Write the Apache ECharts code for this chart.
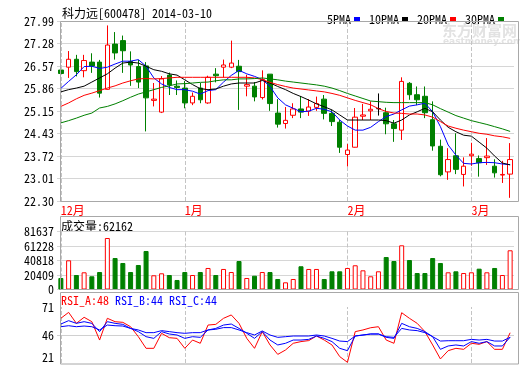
<!DOCTYPE html>
<html>
<head>
<meta charset="utf-8">
<script src="https://cdn.jsdelivr.net/npm/echarts/dist/echarts.min.js"></script>
<style>
  html, body { margin: 0; padding: 0; background: #fff; }
  #chart { width: 520px; height: 365px; }
</style>
</head>
<body>
<div id="chart"></div>
<script>
// trading days shown
const dates = [
  '2013-12-10','2013-12-11','2013-12-12','2013-12-13','2013-12-16','2013-12-17','2013-12-18','2013-12-19',
  '2013-12-20','2013-12-23','2013-12-24','2013-12-25','2013-12-26','2013-12-27','2013-12-30','2013-12-31',
  '2014-01-02','2014-01-03','2014-01-06','2014-01-07','2014-01-08','2014-01-09','2014-01-10','2014-01-13',
  '2014-01-14','2014-01-15','2014-01-16','2014-01-17','2014-01-20','2014-01-21','2014-01-22','2014-01-23',
  '2014-01-24','2014-01-27','2014-01-28','2014-01-29','2014-01-30',
  '2014-02-07','2014-02-10','2014-02-11','2014-02-12','2014-02-13','2014-02-14','2014-02-17','2014-02-18',
  '2014-02-19','2014-02-20','2014-02-21','2014-02-24','2014-02-25','2014-02-26','2014-02-27','2014-02-28',
  '2014-03-03','2014-03-04','2014-03-05','2014-03-06','2014-03-07','2014-03-10'
];
const monthStarts = [0, 16, 37, 53];
const monthLabels = ['12月', '1月', '2月', '3月'];

const priceTicks = ['22.30', '23.01', '23.72', '24.43', '25.15', '25.86', '26.57', '27.28', '27.99'];
const volumeTicks = ['0', '20409', '40818', '61228', '81637'];
const rsiTicks = ['21', '46', '71'];

// [open, close, low, high]
const ohlc = [
  [26.44, 26.33, 26.08, 26.57], [26.53, 26.78, 26.19, 27.04], [26.78, 26.39, 26.24, 26.92], [26.42, 26.74, 26.21, 26.92],
  [26.69, 26.57, 26.35, 26.97], [26.69, 25.71, 25.57, 26.76], [25.83, 27.23, 25.82, 27.85], [27.26, 26.98, 26.77, 27.64],
  [27.37, 27.05, 26.35, 27.53], [26.71, 26.60, 25.94, 27.03], [26.55, 26.06, 25.87, 26.76], [26.57, 25.56, 24.50, 26.69],
  [25.48, 25.52, 25.29, 26.03], [25.11, 26.16, 25.08, 26.25], [26.28, 25.97, 25.65, 26.36], [25.93, 25.89, 25.65, 26.11],
  [25.87, 25.40, 25.23, 26.09], [25.40, 25.61, 25.33, 25.73], [25.87, 25.50, 25.39, 26.03], [25.40, 26.21, 25.37, 26.26],
  [26.31, 26.26, 26.05, 26.50], [26.53, 26.60, 26.20, 26.77], [26.53, 26.66, 26.50, 27.37], [26.56, 26.39, 25.18, 26.76],
  [25.93, 25.98, 25.61, 26.29], [25.93, 25.59, 25.45, 26.06], [25.57, 26.14, 25.51, 26.43], [26.31, 25.38, 25.15, 26.31],
  [25.08, 24.73, 24.62, 25.52], [24.75, 24.85, 24.59, 25.27], [25.01, 25.21, 24.92, 25.39], [25.21, 25.11, 24.92, 25.62],
  [25.14, 25.27, 24.99, 25.52], [25.26, 25.38, 25.15, 25.60], [25.52, 25.07, 24.88, 25.65], [25.07, 24.81, 24.67, 25.18],
  [24.79, 24.00, 23.82, 24.86], [23.77, 23.91, 23.39, 24.10], [24.00, 24.95, 23.99, 25.24], [24.98, 25.02, 24.86, 25.37],
  [25.15, 25.20, 24.86, 25.45], [25.22, 25.22, 25.00, 25.70], [25.09, 24.74, 24.41, 25.25], [24.74, 24.59, 24.17, 24.86],
  [24.54, 26.08, 24.23, 26.21], [26.02, 25.66, 25.50, 26.06], [25.66, 25.50, 25.33, 25.92], [25.61, 25.09, 24.92, 25.92],
  [24.87, 24.04, 23.89, 25.45], [24.03, 23.13, 23.08, 24.24], [23.22, 23.61, 22.97, 23.97], [23.73, 23.30, 23.15, 24.44],
  [23.14, 23.40, 22.76, 23.68], [23.73, 23.78, 23.41, 24.14], [23.64, 23.51, 23.07, 23.74], [23.67, 23.72, 23.44, 24.29],
  [23.40, 23.19, 23.04, 23.62], [23.12, 23.14, 22.87, 23.57], [23.15, 23.61, 22.40, 24.13]
];

const volumes = [
  16200, 41100, 20400, 24200, 18600, 24600, 72500, 44300, 37300, 24600, 34500, 54200, 20000, 22800, 20400,
  13400, 24600, 20400, 24600, 30300, 20400, 28900, 24600, 40100, 16200, 19400, 24600, 24600, 14800, 10100,
  14800, 32700, 28900, 28900, 14800, 25600, 25600, 30300, 34100, 27000, 18600, 25600, 45700, 40100, 62200,
  41500, 23200, 23200, 44300, 37300, 24200, 25600, 23200, 24200, 29300, 24200, 30300, 20400, 55200
];
const volumeLast = 62162;

const ma5 = [
  25.86, 26.08, 26.29, 26.55, 26.56, 26.49, 26.53, 26.63, 26.72, 26.72, 26.77, 26.56, 26.19, 26.00, 25.89,
  25.82, 25.82, 25.77, 25.68, 25.79, 25.82, 26.06, 26.27, 26.43, 26.32, 26.24, 26.14, 25.92, 25.56, 25.34,
  25.23, 25.12, 25.14, 25.23, 25.20, 25.12, 24.86, 24.67, 24.54, 24.54, 24.63, 24.81, 24.97, 25.05, 25.18,
  25.30, 25.34, 25.39, 25.12, 24.65, 24.07, 23.75, 23.49, 23.47, 23.51, 23.52, 23.51, 23.47, 23.45
];
const ma10 = [
  25.75, 25.82, 25.87, 25.93, 26.06, 26.19, 26.32, 26.50, 26.66, 26.69, 26.66, 26.56, 26.45, 26.40, 26.32,
  26.28, 26.13, 25.98, 25.85, 25.82, 25.84, 25.93, 26.00, 26.03, 26.03, 26.03, 26.11, 26.03, 25.92, 25.82,
  25.70, 25.60, 25.49, 25.37, 25.28, 25.18, 25.02, 24.86, 24.86, 24.86, 24.86, 24.86, 24.84, 24.76, 24.86,
  25.02, 25.12, 25.23, 25.12, 24.86, 24.63, 24.49, 24.38, 24.35, 24.16, 23.97, 23.72, 23.50, 23.44
];
const ma20 = [
  25.29, 25.40, 25.53, 25.64, 25.71, 25.79, 25.87, 25.94, 26.03, 26.10, 26.16, 26.17, 26.16, 26.17, 26.19,
  26.21, 26.21, 26.21, 26.21, 26.21, 26.21, 26.21, 26.21, 26.21, 26.21, 26.19, 26.14, 26.05, 25.98, 25.92,
  25.87, 25.84, 25.81, 25.78, 25.75, 25.70, 25.64, 25.56, 25.48, 25.41, 25.34, 25.22, 25.13, 25.08, 25.07,
  25.05, 25.05, 25.02, 24.95, 24.81, 24.67, 24.60, 24.54, 24.49, 24.44, 24.41, 24.36, 24.33, 24.28
];
const ma30 = [
  24.77, 24.84, 24.92, 25.01, 25.08, 25.24, 25.29, 25.37, 25.47, 25.58, 25.68, 25.75, 25.82, 25.89, 25.94,
  26.00, 26.01, 26.03, 26.05, 26.06, 26.10, 26.13, 26.13, 26.16, 26.16, 26.17, 26.19, 26.16, 26.13, 26.09,
  26.06, 26.03, 26.00, 25.97, 25.93, 25.87, 25.79, 25.70, 25.62, 25.54, 25.46, 25.44, 25.42, 25.41, 25.41,
  25.41, 25.41, 25.41, 25.34, 25.22, 25.11, 25.00, 24.92, 24.84, 24.78, 24.72, 24.65, 24.58, 24.50
];

const rsiA = [
  60.9, 66.2, 56.4, 61.8, 57.9, 41.5, 60.9, 57.9, 57.3, 53.4, 44.5, 34.1, 34.1, 47.5, 43.6,
  43.0, 34.1, 41.5, 38.6, 54.9, 55.5, 60.9, 63.9, 56.4, 43.0, 34.1, 49.0, 37.1, 28.7, 32.6,
  38.6, 40.1, 41.0, 45.1, 41.5, 37.1, 26.7, 21.6, 49.0, 50.5, 52.5, 53.4, 41.5, 38.6, 65.9,
  60.9, 56.4, 49.0, 37.1, 24.6, 32.0, 34.1, 33.2, 38.6, 37.7, 40.1, 33.2, 33.2, 48.0
];
const rsiB = [
  55.8, 58.8, 56.4, 57.9, 56.4, 49.0, 57.9, 56.4, 55.5, 51.9, 49.0, 44.5, 43.0, 49.0, 46.9,
  46.0, 43.0, 44.5, 43.9, 50.5, 51.9, 54.9, 55.8, 51.9, 47.5, 43.0, 49.0, 41.5, 37.1, 38.6,
  41.5, 41.5, 42.1, 45.1, 43.0, 40.1, 34.1, 32.0, 45.1, 46.0, 46.9, 46.9, 43.9, 43.0, 56.4,
  53.4, 51.9, 49.0, 44.5, 33.2, 36.2, 37.1, 36.2, 40.1, 38.6, 40.1, 36.2, 36.2, 44.0
];
const rsiC = [
  53.4, 54.3, 53.4, 54.0, 53.4, 50.5, 54.9, 54.3, 54.0, 51.9, 50.5, 48.1, 48.1, 49.9, 49.0,
  48.1, 47.5, 48.1, 48.1, 50.5, 51.1, 52.6, 52.6, 50.5, 48.1, 46.0, 49.6, 46.0, 43.9, 44.5,
  45.1, 45.1, 45.1, 46.0, 45.1, 43.0, 40.6, 40.1, 45.1, 46.0, 46.9, 46.9, 44.5, 43.9, 51.9,
  50.5, 49.9, 48.1, 44.5, 40.6, 40.9, 40.9, 40.9, 42.1, 41.5, 42.1, 40.6, 40.6, 44.0
];

const FONT = "'Noto Sans Mono CJK SC', 'DejaVu Sans Mono', monospace";
const RED = '#ff0000', GREEN = '#008000', BLUE = '#0000ff';
const LEFT = 57, WIDTH = 457;

const chart = echarts.init(document.getElementById('chart'), null, { renderer: 'canvas' });

const monthLine = {
  silent: true,
  symbol: 'none',
  z: 1,
  label: { show: false },
  lineStyle: { type: 'dashed', color: '#c4c4c4', width: 1 },
  data: monthStarts.map(i => ({ xAxis: dates[i] }))
};

const volData = volumes.map((v, i) => {
  const up = ohlc[i][1] >= ohlc[i][0];
  return {
    value: v,
    itemStyle: up
      ? { color: '#fff', borderColor: RED, borderWidth: 1 }
      : { color: GREEN, borderColor: GREEN, borderWidth: 1 }
  };
});

const catAxis = (idx, showLabel) => ({
  type: 'category',
  gridIndex: idx,
  data: dates,
  boundaryGap: true,
  axisLine: { show: false },
  axisTick: { show: false },
  splitLine: { show: false },
  axisLabel: showLabel ? {
    interval: (i) => monthStarts.includes(i),
    formatter: (v, i) => monthLabels[monthStarts.indexOf(i)],
    color: RED, fontSize: 12, fontFamily: FONT, align: 'left', margin: 3
  } : { show: false }
});

const valAxis = (idx, min, max, step, ticks, splitColor, bottomAlign) => ({
  type: 'value',
  gridIndex: idx,
  min: min, max: max, interval: step,
  axisLine: { show: false },
  axisTick: { show: false },
  axisLabel: {
    color: '#000', fontSize: 12, fontFamily: FONT, margin: 3,
    verticalAlignMinLabel: bottomAlign ? 'bottom' : null,
    formatter: (v) => ticks[Math.round((v - min) / step)]
  },
  splitLine: { lineStyle: { color: splitColor, width: 1 } }
});

const frame = (y, h) => ({
  type: 'rect', silent: true, z: 100,
  shape: { x: 60.5, y: y, width: 458, height: h },
  style: { fill: 'none', stroke: '#a8a8a8', lineWidth: 1 }
});

const lastRsi = (arr) => Math.round(arr[arr.length - 1]);

chart.setOption({
  animation: false,
  backgroundColor: '#fff',
  legend: {
    right: 11, top: 8,
    align: 'right',
    icon: 'rect', itemWidth: 6, itemHeight: 4, itemGap: 9,
    selectedMode: false,
    textStyle: { color: '#000', fontSize: 12, fontFamily: FONT, padding: [0, -2, 0, 0] },
    data: ['5PMA', '10PMA', '20PMA', '30PMA']
  },
  grid: [
    { left: LEFT, width: WIDTH, top: 21, height: 180, outerBoundsMode: 'none' },
    { left: LEFT, width: WIDTH, top: 231.5, height: 58, outerBoundsMode: 'none' },
    { left: LEFT, width: WIDTH, top: 307, height: 56, outerBoundsMode: 'none' }
  ],
  xAxis: [catAxis(0, true), catAxis(1, false), catAxis(2, false)],
  yAxis: [
    valAxis(0, 22.30, 27.99, 0.71125, priceTicks, '#d6d6d6', false),
    valAxis(1, 0, 81637, 20409.25, volumeTicks, '#d6d6d6', false),
    valAxis(2, 21, 71, 25, rsiTicks, ['rgba(0,0,0,0)', '#d0d0d0', 'rgba(0,0,0,0)'], true)
  ],
  graphic: [
    frame(21.5, 180), frame(216.5, 73), frame(292.5, 71.5),
    {
      type: 'text', x: 442, y: 23, silent: true, z: 0,
      style: { text: '东方财富网', font: 'bold 15px "Noto Sans CJK SC"', fill: '#e2e2e2' }
    },
    {
      type: 'text', x: 443, y: 37, silent: true, z: 0,
      style: { text: 'eastmoney.com', font: 'bold 9px "DejaVu Sans"', fill: '#e2e2e2' }
    },
    {
      type: 'text', x: 62, y: 7,
      style: { text: '科力远[600478] 2014-03-10', font: '12px ' + FONT, fill: '#000' }
    },
    {
      type: 'text', x: 61, y: 220,
      style: { text: '成交量:' + volumeLast, font: '12px ' + FONT, fill: '#000' }
    },
    {
      type: 'text', x: 61, y: 294,
      style: {
        text: '{a|RSI_A:' + lastRsi(rsiA) + '} {b|RSI_B:' + lastRsi(rsiB) + '} {b|RSI_C:' + lastRsi(rsiC) + '}',
        font: '12px ' + FONT,
        rich: {
          a: { fill: RED, font: '12px ' + FONT },
          b: { fill: BLUE, font: '12px ' + FONT }
        }
      }
    }
  ],
  series: [
    {
      name: 'K', type: 'candlestick', xAxisIndex: 0, yAxisIndex: 0,
      barWidth: 5,
      itemStyle: {
        color: '#fff', color0: GREEN,
        borderColor: RED, borderColor0: GREEN, borderColorDoji: '#000',
        borderWidth: 1
      },
      data: ohlc,
      markLine: monthLine
    },
    { name: '5PMA', type: 'line', xAxisIndex: 0, yAxisIndex: 0, data: ma5, showSymbol: false, symbol: 'none',
      lineStyle: { color: BLUE, width: 1 }, itemStyle: { color: BLUE } },
    { name: '10PMA', type: 'line', xAxisIndex: 0, yAxisIndex: 0, data: ma10, showSymbol: false, symbol: 'none',
      lineStyle: { color: '#000', width: 1 }, itemStyle: { color: '#000' } },
    { name: '20PMA', type: 'line', xAxisIndex: 0, yAxisIndex: 0, data: ma20, showSymbol: false, symbol: 'none',
      lineStyle: { color: RED, width: 1 }, itemStyle: { color: RED } },
    { name: '30PMA', type: 'line', xAxisIndex: 0, yAxisIndex: 0, data: ma30, showSymbol: false, symbol: 'none',
      lineStyle: { color: GREEN, width: 1 }, itemStyle: { color: GREEN } },
    {
      name: 'VOL', type: 'bar', xAxisIndex: 1, yAxisIndex: 1,
      barWidth: 5, data: volData, markLine: monthLine
    },
    { name: 'RSI_A', type: 'line', xAxisIndex: 2, yAxisIndex: 2, data: rsiA, showSymbol: false, symbol: 'none',
      lineStyle: { color: RED, width: 1 }, markLine: monthLine },
    { name: 'RSI_B', type: 'line', xAxisIndex: 2, yAxisIndex: 2, data: rsiB, showSymbol: false, symbol: 'none',
      lineStyle: { color: BLUE, width: 1 } },
    { name: 'RSI_C', type: 'line', xAxisIndex: 2, yAxisIndex: 2, data: rsiC, showSymbol: false, symbol: 'none',
      lineStyle: { color: BLUE, width: 1 } }
  ]
});
</script>
</body>
</html>
